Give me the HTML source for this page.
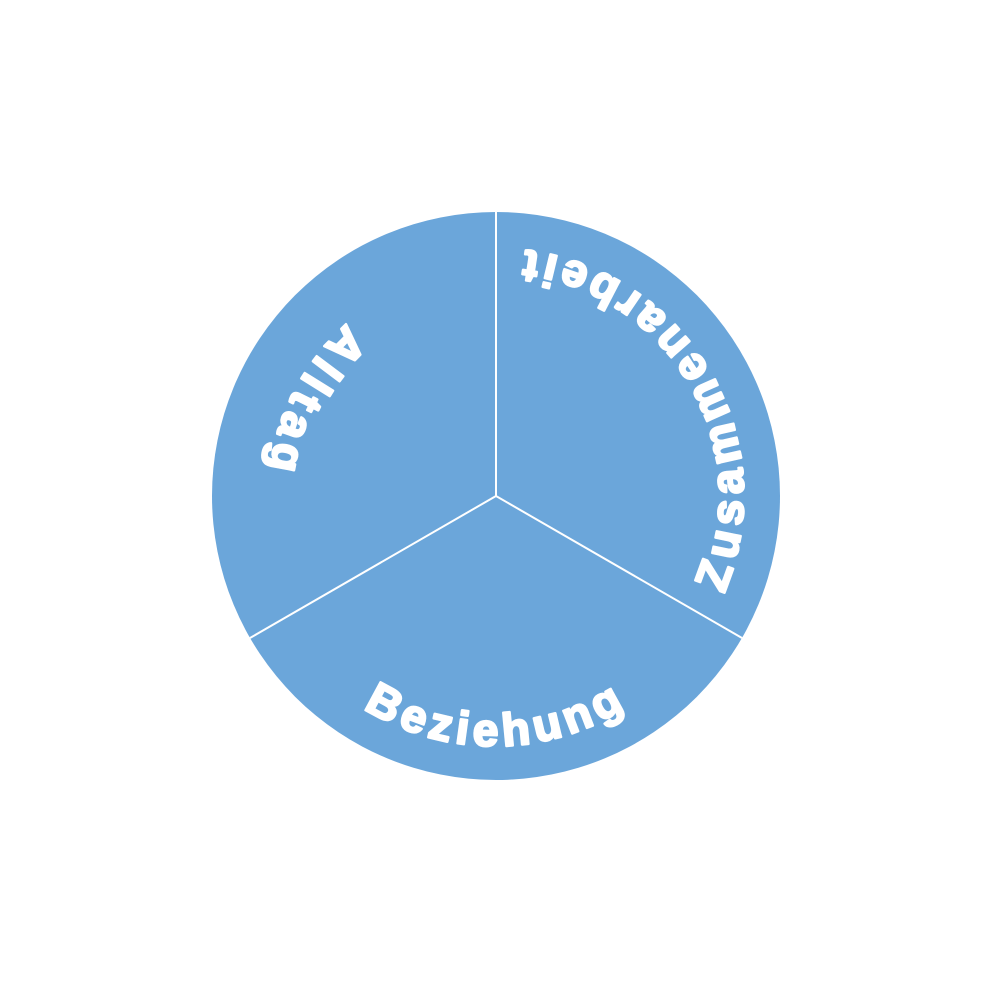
<!DOCTYPE html>
<html><head><meta charset="utf-8"><style>html,body{margin:0;padding:0;background:#fff}svg{display:block}</style></head>
<body>
<svg width="992" height="993" viewBox="0 0 992 993" xmlns="http://www.w3.org/2000/svg">
<defs>
<path id="pz" d="M623.7,708.6 A248,248 0 0 0 375.8,279.1"/>
<path id="pa" d="M604.9,291.2 A232,232 0 0 0 387.1,700.8"/>
<path id="pb" d="M248,500 A246,246 0 0 0 740,500"/>
</defs>
<circle cx="496" cy="496" r="284" fill="#6ba6da"/>
<g stroke="#fff" stroke-width="2">
<line x1="496" y1="496" x2="496" y2="212"/>
<line x1="496" y1="496" x2="250" y2="638"/>
<line x1="496" y1="496" x2="742" y2="638"/>
</g>
<g fill="#fff" stroke="#fff" stroke-width="2.5" stroke-linejoin="round" font-family="Liberation Sans, Arial, sans-serif" font-weight="bold" font-size="46">
<text><textPath href="#pz" startOffset="50%" text-anchor="middle" textLength="460" lengthAdjust="spacing">Zusammenarbeit</textPath></text>
<text><textPath href="#pa" startOffset="50%" text-anchor="middle" textLength="168" lengthAdjust="spacing">Alltag</textPath></text>
<text><textPath href="#pb" startOffset="50%" text-anchor="middle" textLength="276" lengthAdjust="spacing">Beziehung</textPath></text>
</g>
</svg>
</body></html>
